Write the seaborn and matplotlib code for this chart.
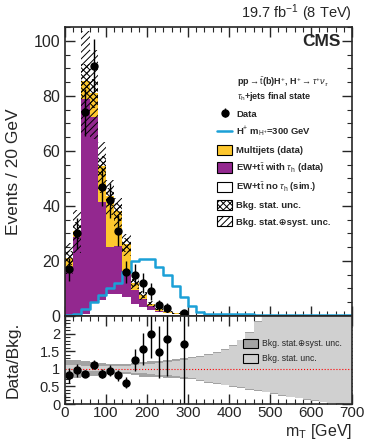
import numpy as np
import pandas as pd
import matplotlib
matplotlib.use('Agg')
import matplotlib.pyplot as plt
import seaborn as sns
from matplotlib.patches import Patch
from matplotlib.lines import Line2D
from matplotlib.ticker import MultipleLocator, FuncFormatter

# 20 GeV bins, 0-700 GeV
bin_edges = list(range(0, 720, 20))
bin_centres = [e + 10 for e in bin_edges[:-1]]

# background components (events / bin)
ew_notau = [0.3, 0.4, 0.6, 4.7, 6.0, 8.1, 8.0, 7.0, 4.5, 3.2, 2.2, 1.6, 1.0, 0.6, 0.4, 0.25, 0.15, 0.1,
            0.08, 0.06, 0.05, 0.04, 0.03, 0.03, 0.02, 0.02, 0.02, 0.01, 0.01, 0.01, 0.01, 0.01, 0.0, 0.0, 0.0]
ew_tau = [17.5, 28.3, 78.2, 67.7, 35.5, 16.9, 17.3, 9.5, 4.8, 3.1, 1.3, 0.4, 0.2, 0.2, 0.05, 0.05, 0.05, 0.05,
          0.04, 0.03, 0.03, 0.02, 0.02, 0.02, 0.01, 0.01, 0.01, 0.01, 0.01, 0.0, 0.0, 0.0, 0.0, 0.0, 0.0]
multijets = [3.4, 2.3, 6.7, 8.8, 13.0, 18.5, 12.7, 9.5, 2.7, 1.3, 1.0, 0.7, 0.4, 0.2, 0.15, 0.1, 0.1, 0.05,
             0.04, 0.03, 0.02, 0.02, 0.02, 0.01, 0.01, 0.01, 0.01, 0.0, 0.0, 0.0, 0.0, 0.0, 0.0, 0.0, 0.0]
# H+ signal, m_H+ = 300 GeV
signal = [0.5, 0.9, 2.7, 5.0, 7.7, 10.3, 12.0, 16.0, 20.0, 20.8, 20.6, 17.8, 14.8, 10.8, 6.9, 3.5, 1.6, 0.85,
          0.75, 0.7, 0.65, 0.6, 0.6, 0.55, 0.5, 0.5, 0.45, 0.45, 0.4, 0.4, 0.35, 0.35, 0.3, 0.3, 0.3]

# data
data_x = [10, 30, 50, 70, 90, 110, 130, 150, 170, 190, 210, 230, 250, 290]
data_n = [17, 30, 74, 91, 47, 42, 31, 16, 15, 12, 9, 4, 3, 1]
data_err = [4.1, 5.5, 8.6, 9.5, 6.9, 6.5, 5.6, 4.0, 3.9, 3.5, 3.0, 2.0, 1.7, 1.0]
ratio = [0.81, 0.96, 0.86, 1.12, 0.86, 0.95, 0.81, 0.61, 1.25, 1.57, 1.99, 1.48, 1.86, 1.70]
ratio_err = [0.20, 0.18, 0.10, 0.12, 0.13, 0.15, 0.15, 0.15, 0.32, 0.46, 0.67, 0.75, 1.07, 1.70]

# relative background uncertainty bands
syst_hi = [1.25, 1.24, 1.21, 1.19, 1.16, 1.14, 1.13, 1.14, 1.17, 1.20, 1.22, 1.22, 1.24, 1.27, 1.31, 1.33, 1.37, 1.42,
           1.48, 1.56, 1.68, 1.83, 2.05, 2.35, 2.7, 2.8, 2.8, 2.8, 2.8, 2.8, 2.8, 2.8, 2.8, 2.8, 2.8]
stat_hi = [1.12, 1.10, 1.07, 1.06, 1.07, 1.07, 1.08, 1.09, 1.11, 1.13, 1.15, 1.17, 1.20, 1.22, 1.26, 1.30, 1.34, 1.39,
           1.46, 1.54, 1.66, 1.81, 2.03, 2.33, 2.7, 2.8, 2.8, 2.8, 2.8, 2.8, 2.8, 2.8, 2.8, 2.8, 2.8]
stat_lo = [0.88, 0.90, 0.93, 0.93, 0.93, 0.92, 0.91, 0.90, 0.89, 0.87, 0.85, 0.83, 0.81, 0.79, 0.76, 0.73, 0.68, 0.63,
           0.59, 0.55, 0.51, 0.47, 0.43, 0.39, 0.34, 0.30, 0.25, 0.21, 0.17, 0.13, 0.10, 0.07, 0.04, 0.02, 0.0]
syst_lo = [0.72, 0.74, 0.77, 0.79, 0.82, 0.84, 0.85, 0.84, 0.81, 0.78, 0.76, 0.76, 0.75, 0.74, 0.72, 0.70, 0.66, 0.61,
           0.57, 0.53, 0.49, 0.45, 0.41, 0.37, 0.33, 0.28, 0.24, 0.20, 0.16, 0.12, 0.09, 0.06, 0.03, 0.01, 0.0]

yellow = '#fdc72e'
purple = '#93288f'
blue = '#1ba0d7'
dark_gray = '#a3a3a3'
light_gray = '#d0d0d0'

sns.set_style('ticks')
plt.rcParams['font.family'] = ['Liberation Sans', 'DejaVu Sans']
plt.rcParams['hatch.linewidth'] = 0.7
plt.rcParams['mathtext.fontset'] = 'custom'
plt.rcParams['mathtext.rm'] = 'Liberation Sans'
plt.rcParams['mathtext.it'] = 'Liberation Sans:italic'
plt.rcParams['mathtext.bf'] = 'Liberation Sans:bold'

fig = plt.figure(figsize=(3.66, 4.41), dpi=100)
ax = fig.add_axes([0.1776, 0.2834, 0.784, 0.6553])
rax = fig.add_axes([0.1776, 0.0839, 0.784, 0.1995])

# stacked backgrounds
stack = pd.DataFrame({
    'mt': bin_centres * 3,
    'n': multijets + ew_tau + ew_notau,
    'proc': ['mj'] * 35 + ['ewtau'] * 35 + ['ewnotau'] * 35,
})
sns.histplot(data=stack, x='mt', weights='n', hue='proc', hue_order=['mj', 'ewtau', 'ewnotau'],
             multiple='stack', bins=bin_edges, element='step', fill=True, alpha=1, linewidth=0,
             palette={'mj': yellow, 'ewtau': purple, 'ewnotau': 'white'}, legend=False, ax=ax)

total = np.array(ew_notau) + np.array(ew_tau) + np.array(multijets)
def stepped(a):
    return list(a) + [a[-1]]

ax.fill_between(bin_edges, stepped(total * np.array(stat_lo)), stepped(total * np.array(stat_hi)),
                step='post', facecolor='none', edgecolor='k', hatch='xxxxx', linewidth=0)
ax.fill_between(bin_edges, stepped(total * np.array(syst_lo)), stepped(total * np.array(syst_hi)),
                step='post', facecolor='none', edgecolor='k', hatch='/////', linewidth=0)

# signal
sns.histplot(x=bin_centres, weights=signal, bins=bin_edges, element='step', fill=False,
             color=blue, linewidth=1.8, ax=ax)

data_h = ax.errorbar(data_x, data_n, yerr=data_err, fmt='o', color='k', ms=5, elinewidth=1, capsize=0)

ax.set_xlim(0, 700)
ax.set_ylim(0, 105)
ax.set_xlabel('')
ax.set_ylabel('Events / 20 GeV', fontsize=12.5)
ax.yaxis.set_label_coords(-0.155, 0.5)
ax.xaxis.set_major_locator(MultipleLocator(100))
ax.xaxis.set_minor_locator(MultipleLocator(20))
ax.yaxis.set_major_locator(MultipleLocator(20))
ax.yaxis.set_minor_locator(MultipleLocator(5))
ax.tick_params(axis='x', labelbottom=False)

ax.text(1.0, 1.012, '19.7 fb$^{-1}$ (8 TeV)', transform=ax.transAxes, ha='right', va='bottom', fontsize=10.5)
ax.text(0.96, 0.95, 'CMS', transform=ax.transAxes, ha='right', va='center', fontsize=12.5, fontweight='bold')
ax.text(0.60, 0.81, r'pp$\rightarrow\bar{\mathrm{t}}$(b)H$^{+}$, H$^{+}\rightarrow\tau^{+}\nu_{\tau}$',
        transform=ax.transAxes, ha='left', va='center', fontsize=6.5, fontweight='bold')
ax.text(0.60, 0.758, r'$\tau_{\mathrm{h}}$+jets final state', transform=ax.transAxes,
        ha='left', va='center', fontsize=6.5, fontweight='bold')

handles = [
    data_h,
    Line2D([], [], color=blue, lw=1.8),
    Patch(facecolor=yellow, edgecolor='k', lw=0.8),
    Patch(facecolor=purple, edgecolor='k', lw=0.8),
    Patch(facecolor='white', edgecolor='k', lw=0.8),
    Patch(facecolor='white', edgecolor='k', lw=0.8, hatch='xxxxx'),
    Patch(facecolor='white', edgecolor='k', lw=0.8, hatch='/////'),
]
labels = [
    'Data',
    r'H$^{+}$ m$_{\mathrm{H}^{+}}$=300 GeV',
    'Multijets (data)',
    r'EW+t$\bar{\mathrm{t}}$ with $\tau_{\mathrm{h}}$ (data)',
    r'EW+t$\bar{\mathrm{t}}$ no $\tau_{\mathrm{h}}$ (sim.)',
    'Bkg. stat. unc.',
    'Bkg. stat.\u2295syst. unc.',
]
leg = ax.legend(handles, labels, loc='upper left', bbox_to_anchor=(0.53, 0.718), frameon=False,
                prop={'weight': 'bold', 'size': 6.8}, borderpad=0, borderaxespad=0,
                handlelength=1.6, handleheight=1.3, handletextpad=0.4, labelspacing=0.62)

# ratio panel
rax.fill_between(bin_edges, stepped(syst_lo), stepped(syst_hi), step='post', color=dark_gray, lw=0)
rax.fill_between(bin_edges, stepped(stat_lo), stepped(stat_hi), step='post', color=light_gray, lw=0)
rax.axhline(1, color='red', ls=':', lw=0.8)
rax.errorbar(data_x, ratio, yerr=ratio_err, fmt='o', color='k', ms=5, elinewidth=1, capsize=0)

rax.set_xlim(0, 700)
rax.set_ylim(0, 2.5)
rax.xaxis.set_major_locator(MultipleLocator(100))
rax.xaxis.set_minor_locator(MultipleLocator(20))
rax.yaxis.set_major_locator(MultipleLocator(0.5))
rax.yaxis.set_minor_locator(MultipleLocator(0.1))
rax.yaxis.set_major_formatter(FuncFormatter(lambda v, p: '%g' % v if v < 2.4 else ''))
rax.set_ylabel('Data/Bkg.', fontsize=12.5)
rax.yaxis.set_label_coords(-0.155, 0.5)
rax.set_xlabel(r'm$_{\mathrm{T}}$ [GeV]', fontsize=11.5, loc='right')
rax.xaxis.set_label_coords(1.0, -0.2)

rleg = rax.legend([Patch(facecolor=dark_gray, edgecolor='k', lw=0.8),
                   Patch(facecolor=light_gray, edgecolor='k', lw=0.8)],
                  ['Bkg. stat.\u2295syst. unc.', 'Bkg. stat. unc.'],
                  loc='upper left', bbox_to_anchor=(0.62, 0.74), frameon=False, fontsize=6.2,
                  borderpad=0, borderaxespad=0, handlelength=1.8, handleheight=1.3,
                  handletextpad=0.4, labelspacing=0.6)

for a in (ax, rax):
    a.tick_params(which='both', direction='in', top=True, right=True, labelsize=11.5)
    a.tick_params(which='major', length=7, width=1)
    a.tick_params(which='minor', length=3.5, width=0.8)
    for s in a.spines.values():
        s.set_linewidth(1.2)
rax.tick_params(axis='y', labelsize=10.5)
rax.tick_params(axis='x', pad=1.5, labelsize=11)

fig.savefig('out.png', dpi=100)
